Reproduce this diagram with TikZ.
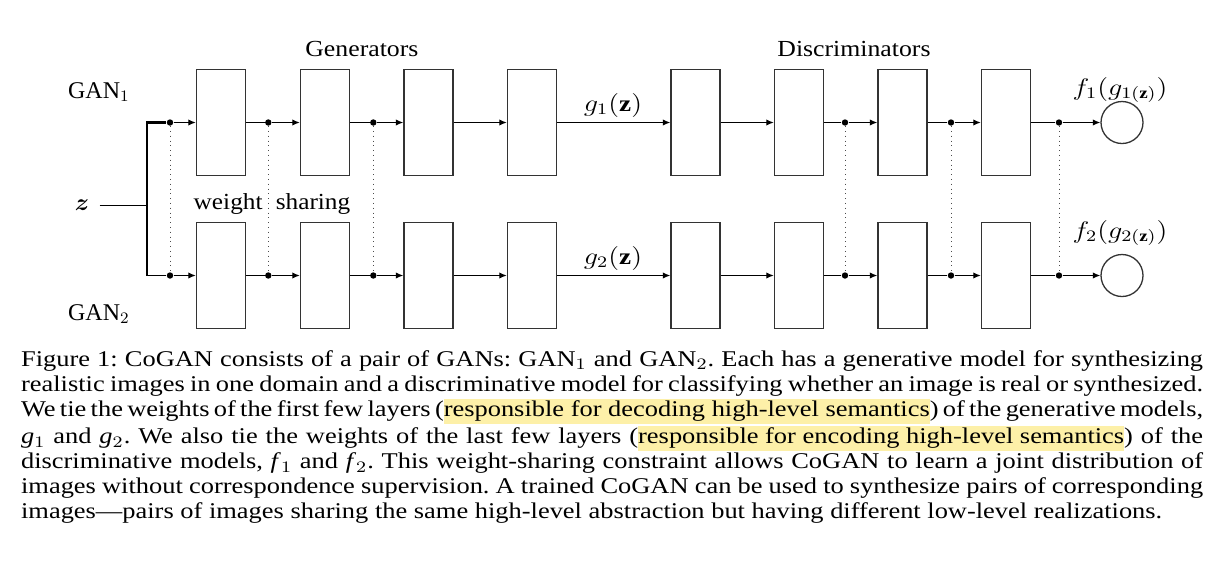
\documentclass[tikz,border=0pt]{standalone}
\usepackage{amsmath}
\usepackage{amssymb}
\usepackage{fontspec}
\setmainfont{Liberation Serif}
\usepackage{graphicx}
\usetikzlibrary{arrows.meta,positioning}

\definecolor{hlyellow}{RGB}{253,240,168}
\newcommand{\hlt}[1]{\sbox0{#1}\makebox[0pt][l]{\textcolor{hlyellow}{\rule[-3.6pt]{\wd0}{12.6pt}}}\usebox0}
\newcommand{\wide}[2][1.1]{\scalebox{#1}[1]{#2}}

\begin{document}
\begin{tikzpicture}[x=0.5pt, y=-0.5pt,
  layer/.style={draw=black!80, line width=0.65pt, minimum width=24.5pt, minimum height=53pt, inner sep=0pt},
  outnode/.style={circle, draw=black!80, line width=0.65pt, minimum size=21pt, inner sep=0pt},
  dot/.style={circle, fill=black, inner sep=0pt, minimum size=3.2pt},
  line/.style={line width=0.6pt},
  conn/.style={line width=0.6pt, -{Latex[length=3.8pt,width=3.2pt]}},
  tie/.style={dotted, line width=0.4pt, black!70},
  lbl/.style={font=\fontsize{11.5}{13}\selectfont, inner sep=0pt}]
\useasboundingbox (0,0) rectangle (1228,564);

% layers of the two GANs
\foreach \i/\x in {1/221,2/325,3/428.5,4/532,5/695.5,6/799,7/902.5,8/1006}{
  \node[layer] (t\i) at (\x,122.5) {};
  \node[layer] (b\i) at (\x,275.5) {};
}
\node[outnode] (ot) at (1122,122.5) {};
\node[outnode] (ob) at (1122,275.5) {};

% shared weights
\foreach \j/\x in {1/170,2/268.3,3/373.3,4/845,5/951,6/1059}{
  \node[dot] (dt\j) at (\x,122.5) {};
  \node[dot] (db\j) at (\x,275.5) {};
  \draw[tie] (dt\j) -- (db\j);
}

% input
\node[lbl, inner xsep=5pt] (z) at (82,205) {$\boldsymbol{z}$};
\coordinate (split) at (146.7,205);
\draw[line width=0.45pt] (z) -- (split);
\draw[line width=1.2pt] (split |- db1) -- (split |- dt1) -- (dt1);
\draw[line] (split |- db1) -- (db1);

% connectors
\foreach \r in {t,b}{
  \draw[conn] (d\r1) -- (\r1);
  \draw[line] (\r1) -- (d\r2);
  \draw[conn] (d\r2) -- (\r2);
  \draw[line] (\r2) -- (d\r3);
  \draw[conn] (d\r3) -- (\r3);
  \draw[conn] (\r3) -- (\r4);
  \draw[conn] (\r4) -- (\r5);
  \draw[conn] (\r5) -- (\r6);
  \draw[line] (\r6) -- (d\r4);
  \draw[conn] (d\r4) -- (\r7);
  \draw[line] (\r7) -- (d\r5);
  \draw[conn] (d\r5) -- (\r8);
  \draw[line] (\r8) -- (d\r6);
  \draw[conn] (d\r6) -- (o\r);
}

% labels
\node[lbl, anchor=base west] (gan1) at (67.7,98) {\fontsize{12}{13}\selectfont GAN$_1$};
\node[lbl, anchor=base west] (gan2) at (67.7,320) {\fontsize{12}{13}\selectfont GAN$_2$};
\node[lbl, anchor=base west] (gen) at (305,56) {\wide[1.12]{Generators}};
\node[lbl, anchor=base west] (dis) at (777,56) {\wide[1.12]{Discriminators}};
\node[lbl, anchor=base] (ws) at (272,209) {\wide{weight\hspace{6pt}sharing}};
\node[lbl, anchor=base] (g1) at (613,111) {\wide[1.18]{$g_1(\mathbf{z})$}};
\node[lbl, anchor=base] (g2) at (613,264) {\wide[1.18]{$g_2(\mathbf{z})$}};
\node[lbl, anchor=base] (f1) at (1120,95) {\wide[1.18]{$f_1(g_{1(\mathbf{z})})$}};
\node[lbl, anchor=base] (f2) at (1120,238) {\wide[1.18]{$f_2(g_{2(\mathbf{z})})$}};

% caption
\node[inner sep=0pt, anchor=base west] (cap) at (20.7,366.7) {\wide[1.175]{\parbox[t]{503pt}{%
  \fontsize{11.25}{12.5}\selectfont\frenchspacing\spaceskip=0.25em plus 0.2em minus 0.13em
  \hyphenpenalty=10000\exhyphenpenalty=10000\emergencystretch=20pt%
  Figure 1: CoGAN consists of a pair of GANs: GAN$_1$ and GAN$_2$. Each has a generative model for synthesizing\linebreak
  realistic images in one domain and a discriminative model for classifying whether an image is real or synthesized.\linebreak
  We tie the weights of the first few layers (\hlt{responsible for decoding high-level semantics}) of the generative models,\linebreak
  \textit{g}$_1$ and \textit{g}$_2$. We also tie the weights of the last few layers (\hlt{responsible for encoding high-level semantics}) of the\linebreak
  discriminative models, \textit{f}$_1$ and \textit{f}$_2$. This weight-sharing constraint allows CoGAN to learn a joint distribution of\linebreak
  images without correspondence supervision. A trained CoGAN can be used to synthesize pairs of corresponding\linebreak
  images---pairs of images sharing the same high-level abstraction but having different low-level realizations.}}};
\end{tikzpicture}
\end{document}
